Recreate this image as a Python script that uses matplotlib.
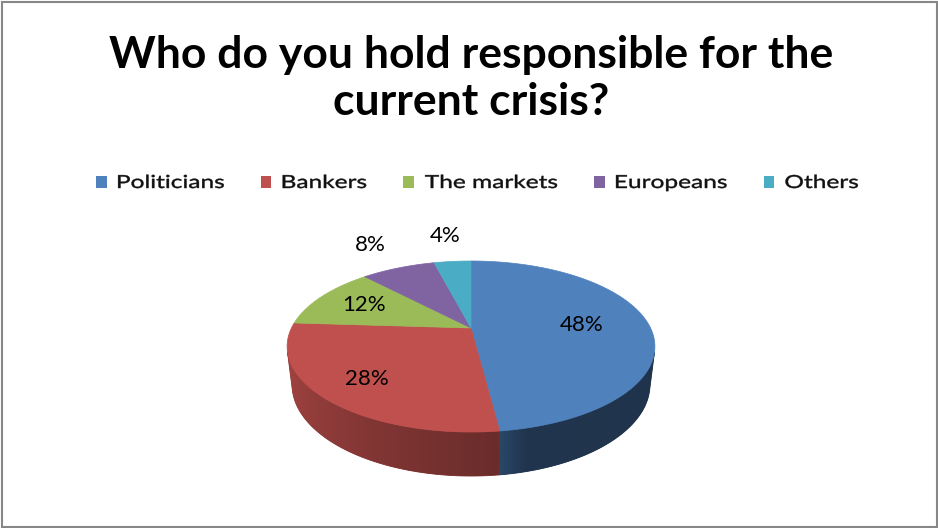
import numpy as np
import matplotlib.pyplot as plt
from matplotlib.patches import Polygon, Rectangle, PathPatch
from matplotlib.textpath import TextPath
from matplotlib.font_manager import FontProperties
from matplotlib.transforms import Affine2D

plt.rcParams['font.family'] = ['Lato', 'DejaVu Sans']

# survey answers
categories = ['Politicians', 'Bankers', 'The markets', 'Europeans', 'Others']
shares = [48, 28, 12, 8, 4]
colors = ['#4F81BD', '#C0504D', '#9BBB59', '#8064A2', '#4BACC6']

W, H = 938, 528
fig = plt.figure(figsize=(W / 100, H / 100), dpi=100)
ax = fig.add_axes([0, 0, 1, 1])

# simple perspective camera looking down on a unit disc
tilt = np.radians(27)
dist = 4.116
scale = 739
cx, cy = 471, 328
thick = 0.24


def project(theta, r=1.0, y=0.0):
    """theta runs clockwise from the far edge of the disc"""
    X = r * np.sin(theta)
    Z = r * np.cos(theta)
    depth = dist - y * np.sin(tilt) + Z * np.cos(tilt)
    sx = X / depth
    sy = (y * np.cos(tilt) + Z * np.sin(tilt)) / depth
    return cx + scale * sx, cy - scale * sy


def to_rgb(hex_color):
    return np.array([int(hex_color[i:i + 2], 16) for i in (1, 3, 5)]) / 255


def wall_light(deg):
    return np.interp(deg, [106, 166, 173, 254], [0.40, 0.41, 0.55, 0.86])


total = float(sum(shares))
bounds = np.concatenate([[0], np.cumsum(shares)]) / total * 2 * np.pi

# side wall: only the part facing the camera, shaded left to right
lim = np.arccos(-1 / (dist * np.cos(tilt)))
wall_lo, wall_hi = lim, 2 * np.pi - lim
for i, col in enumerate(colors):
    lo = max(bounds[i], wall_lo)
    hi = min(bounds[i + 1], wall_hi)
    if lo >= hi:
        continue
    ts = np.linspace(lo, hi, 120)
    tx, ty = project(ts)
    bx, by = project(ts[::-1], y=-thick)
    pts = np.column_stack([np.concatenate([tx, bx]), np.concatenate([ty, by])])
    mid_c = to_rgb(col) * wall_light(np.degrees(ts.mean()))
    poly = Polygon(pts, closed=True, facecolor=mid_c, edgecolor=mid_c, lw=0.6)
    ax.add_patch(poly)

    x0, x1 = pts[:, 0].min(), pts[:, 0].max()
    y0, y1 = pts[:, 1].min(), pts[:, 1].max()
    gx = np.linspace(x0, x1, 300)
    order = np.argsort(tx)
    gt = np.interp(gx, tx[order], ts[order])
    img = to_rgb(col)[None, None, :] * wall_light(np.degrees(gt))[None, :, None]
    im = ax.imshow(np.clip(img, 0, 1), extent=(x0, x1, y1, y0), aspect='auto',
                   interpolation='bilinear', zorder=1.5)
    im.set_clip_path(poly)

# top face
for i, col in enumerate(colors):
    ts = np.linspace(bounds[i], bounds[i + 1], 200)
    xs, ys = project(ts)
    pts = [(cx, cy)] + list(zip(xs, ys))
    ax.add_patch(Polygon(pts, closed=True, facecolor=col, edgecolor=col, lw=0.5, zorder=2))

# percentage labels
label_r = [0.62, 0.75, 0.7, 1.5, 1.5]
for i, s in enumerate(shares):
    mid = (bounds[i] + bounds[i + 1]) / 2
    lx, ly = project(mid, r=label_r[i])
    ax.text(lx, ly, f'{s}%', ha='center', va='center', fontsize=16, color='black', zorder=3)

# title
ax.text(471, 68, 'Who do you hold responsible for the', ha='center', va='baseline',
        fontsize=32, fontweight='bold', color='black')
ax.text(471, 115, 'current crisis?', ha='center', va='baseline',
        fontsize=32, fontweight='bold', color='black')


# legend, written as wide outlined text
legend_font = FontProperties(family='Lato')
leg_size, leg_stretch = 18, 1.36
box, pad, gap = 10, 12, 37
paths = [TextPath((0, 0), n, size=leg_size, prop=legend_font) for n in categories]
widths = [p.get_extents().width * leg_stretch for p in paths]
row_w = sum(box + pad + w for w in widths) + gap * (len(widths) - 1)
x = 477 - row_w / 2
base = 188
for p, w, col in zip(paths, widths, colors):
    ax.add_patch(Rectangle((x, base - 12), box + 0.5, 12, facecolor=col, edgecolor='none'))
    tx0 = x + box + pad
    tr = Affine2D().translate(-p.get_extents().x0, 0).scale(leg_stretch, -1).translate(tx0, base)
    ax.add_patch(PathPatch(tr.transform_path(p), facecolor='#111111', edgecolor='#111111', lw=0.3))
    x = tx0 + w + gap

# outer frame
ax.add_patch(Rectangle((1.5, 1.5), W - 3, H - 3, fill=False, edgecolor='#878787', lw=1.5))

ax.set_xlim(0, W)
ax.set_ylim(H, 0)
ax.axis('off')

fig.savefig('out.png', dpi=100, facecolor='white')
